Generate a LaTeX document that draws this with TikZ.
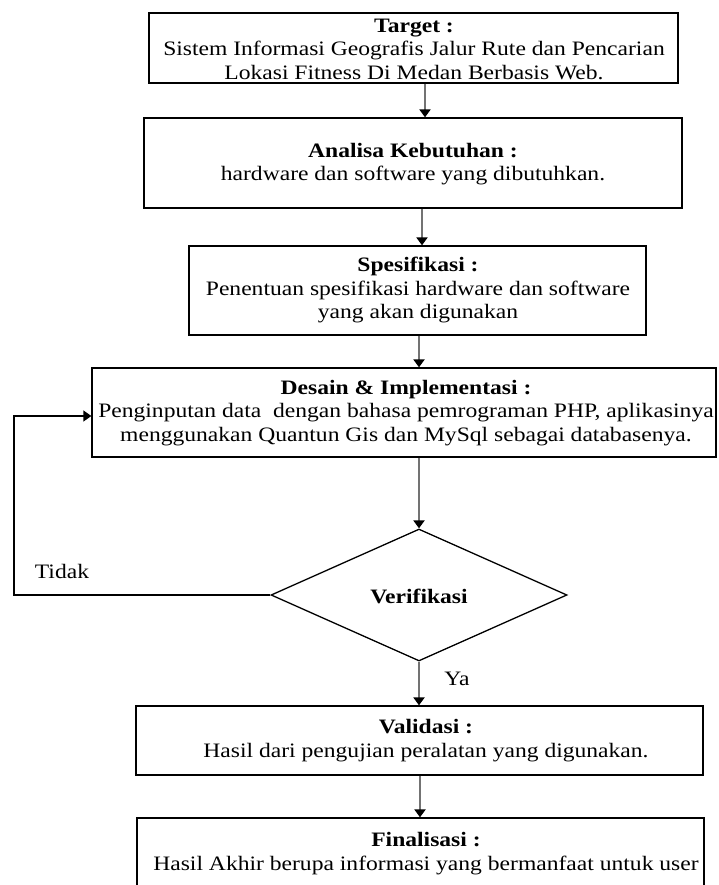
\documentclass[tikz,border=0pt]{standalone}
\usepackage{fontspec}
\setmainfont{Liberation Serif}[FakeStretch=1.15]
\usetikzlibrary{arrows.meta,shapes.geometric}
\begin{document}
\begin{tikzpicture}[x=1pt,y=-1pt,
  box/.style={draw=black,line width=1.3pt,inner sep=0pt},
  txt/.style={align=center,inner sep=0pt,font=\fontsize{20.5}{23.5}\selectfont},
  flow/.style={draw=black!55,line width=2.8pt,-{Triangle[width=11pt,length=8pt,color=black]}},
  loopst/.style={draw=black,line width=1.3pt,-{Triangle[width=11pt,length=8pt,color=black]}}
  ]
\clip (0,0) rectangle (718,885);
\fill[white] (0,0) rectangle (718,885);
% boxes
\node[box,minimum width=529pt,minimum height=70pt] (target) at (413.5,48) {};
\node[box,minimum width=538pt,minimum height=90pt] (analisa) at (413,163) {};
\node[box,minimum width=457pt,minimum height=89pt] (spes) at (417.5,290.5) {};
\node[box,minimum width=624pt,minimum height=89pt] (desain) at (404,412.5) {};
\node[box,diamond,minimum width=296pt,minimum height=132pt] (verif) at (419,595) {};
\node[box,minimum width=567pt,minimum height=69pt] (valid) at (419.5,740.5) {};
\node[box,minimum width=567pt,minimum height=100pt] (final) at (420.5,868) {};
% texts
\node[txt] (ttarget) at (414,49) {\textbf{Target :}\\Sistem Informasi Geografis Jalur Rute dan Pencarian\\Lokasi Fitness Di Medan Berbasis Web.};
\node[txt] (tanalisa) at (413,164) {\textbf{Analisa Kebutuhan :}\\hardware dan software yang dibutuhkan.};
\node[txt] (tspes) at (418,290) {\textbf{Spesifikasi :}\\Penentuan spesifikasi hardware dan software\\yang akan digunakan};
\node[txt] (tdesain) at (406,413) {\textbf{Desain \& Implementasi :}\\Penginputan data\ \ dengan bahasa pemrograman PHP, aplikasinya\\menggunakan Quantun Gis dan MySql sebagai databasenya.};
\node[txt] (tverif) at (419,596) {\textbf{Verifikasi}};
\node[txt] (tvalid) at (426,740.5) {\textbf{Validasi :}\\Hasil dari pengujian peralatan yang digunakan.};
\node[txt] (tfinal) at (426,853.5) {\textbf{Finalisasi :}\\Hasil Akhir berupa informasi yang bermanfaat untuk user};
\node[txt] (tidak) at (62,571) {Tidak};
\node[txt] (ya) at (457,679) {Ya};
% connectors
\draw[flow] ([xshift=11.5pt]target.south) -- ([xshift=12pt]analisa.north);
\draw[flow] ([xshift=9pt]analisa.south) -- ([xshift=4.5pt]spes.north);
\draw[flow] ([xshift=1.5pt]spes.south) -- ([xshift=15pt]desain.north);
\draw[flow] ([xshift=15pt]desain.south) -- (verif.north);
\draw[flow] (verif.south) -- ([xshift=-0.5pt]valid.north);
\draw[flow] ([xshift=0.5pt]valid.south) -- ([xshift=-0.5pt]final.north);
\coordinate (bend) at (14,416);
\draw[loopst] (verif.west) -| (bend) -- ([yshift=-3.5pt]desain.west);
\end{tikzpicture}
\end{document}
